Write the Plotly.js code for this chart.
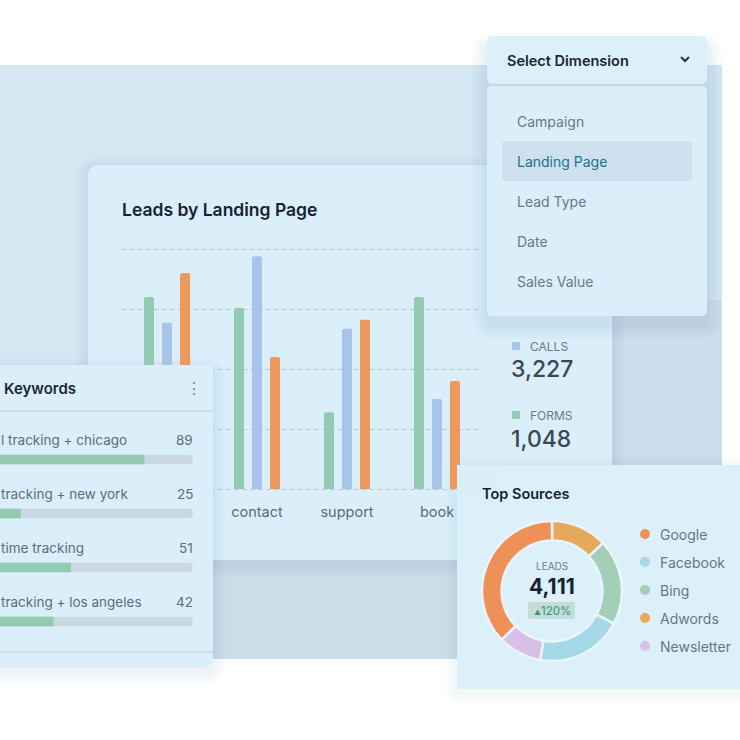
<!DOCTYPE html>
<html><head><meta charset="utf-8">
<script src="https://cdn.plot.ly/plotly-3.0.1.min.js"></script>
<style>html,body{margin:0;padding:0;background:#fff;}#chart{width:740px;height:740px;}</style>
</head><body><div id="chart"></div>
<script>
// ---------------- data ----------------
const pages = ['home', 'contact', 'support', 'book'];
const formsByPage = [320, 302, 128, 320];
const callsByPage = [277, 388, 267, 150];
const chatsByPage = [360, 220, 282, 180];

const summaryLabels = ['CALLS', 'FORMS'];
const summaryValues = [3227, 1048];

// keyword labels as visible in the (left-cropped) panel
const keywords = ['l tracking + chicago', 'tracking + new york', 'time tracking', 'tracking + los angeles'];
const keywordLeads = [89, 25, 51, 42];
const keywordTrack = [114, 114, 114, 114];

const sources = ['Google', 'Facebook', 'Bing', 'Adwords', 'Newsletter'];
const sourceLeads = [1530, 822, 810, 535, 414];
const ringOrder = ['Adwords', 'Bing', 'Facebook', 'Newsletter', 'Google'];
const leadsChange = '120%';

const dimensions = ['Campaign', 'Landing Page', 'Lead Type', 'Date', 'Sales Value'];
const selectedDimension = 'Landing Page';

// ---------------- style ----------------
const W = 740;
const FONT = 'Inter, "Noto Sans", sans-serif';
const PANEL = '#dbeffa';
const GREEN = '#93cbb2', BLUE = '#a8c4eb', ORANGE = '#ec9a5c';
const sourceColors = {Google: '#ee9159', Facebook: '#a6d9e8', Bing: '#a3cfb9', Adwords: '#e6a85a', Newsletter: '#d9c0e9'};
const px = v => v / W;
const py = v => 1 - v / W;

function rr(x0, y0, x1, y1, r) {
  const P = (x, y) => px(x).toFixed(5) + ',' + py(y).toFixed(5);
  return 'M' + P(x0 + r, y0) + ' L' + P(x1 - r, y0) + ' Q' + P(x1, y0) + ' ' + P(x1, y0 + r) +
    ' L' + P(x1, y1 - r) + ' Q' + P(x1, y1) + ' ' + P(x1 - r, y1) +
    ' L' + P(x0 + r, y1) + ' Q' + P(x0, y1) + ' ' + P(x0, y1 - r) +
    ' L' + P(x0, y0 + r) + ' Q' + P(x0, y0) + ' ' + P(x0 + r, y0) + ' Z';
}
function box(x0, y0, x1, y1, r, fill, layer) {
  return {type: 'path', xref: 'paper', yref: 'paper', path: rr(x0, y0, x1, y1, r), fillcolor: fill, line: {width: 0}, layer: layer || 'below'};
}
function shadow(x0, y0, x1, y1, r, dy, n, step, alpha) {
  const out = [];
  for (let i = n; i >= 1; i--) {
    const s = i * step;
    out.push(box(x0 - s, y0 - s + dy, x1 + s, y1 + s + dy, r + s, 'rgba(70,100,130,' + alpha + ')'));
  }
  return out;
}
function hline(x0, x1, y, color, layer) {
  return {type: 'line', xref: 'paper', yref: 'paper', x0: px(x0), x1: px(x1), y0: py(y), y1: py(y), line: {color: color, width: 1}, layer: layer || 'above'};
}
function txt(x, y, text, size, color, o) {
  const a = Object.assign({xref: 'paper', yref: 'paper', x: px(x), y: py(y), text: text, showarrow: false,
    xanchor: 'left', yanchor: 'middle', font: {family: FONT, size: size, color: color}}, o || {});
  if (a.xanchor === 'left') a.x = px(x - 2);
  if (a.xanchor === 'right') a.x = px(x + 2);
  return a;
}
const fmt = n => n.toLocaleString('en-US');

// ---------------- shapes ----------------
let shapes = [];
shapes.push(box(0, 65, 722, 659, 0, '#d5e7f3'));
shapes.push(box(88, 540, 612, 659, 0, '#cbdde9'));
shapes.push(box(612, 300, 722, 470, 0, '#ccdeeb'));
shapes = shapes.concat(shadow(88, 165, 612, 560, 12, 4, 4, 3, 0.018));
shapes.push(box(88, 165, 612, 560, 12, PANEL));
// dropdown
shapes = shapes.concat(shadow(487, 40, 707, 316, 6, 8, 5, 3, 0.018));
shapes.push(box(487, 36, 707, 84, 6, '#dcf0fa'));
shapes.push(box(487, 86, 707, 316, 6, PANEL));
dimensions.forEach((d, i) => {
  if (d === selectedDimension) shapes.push(box(502, 141 + 40 * (i - 1), 692, 181 + 40 * (i - 1), 3, '#cde2ee'));
});
shapes.push({type: 'path', xref: 'paper', yref: 'paper', layer: 'above',
  path: 'M' + px(681) + ',' + py(57) + ' L' + px(685) + ',' + py(61) + ' L' + px(689) + ',' + py(57),
  line: {color: '#24323e', width: 2}});
// summary squares
shapes.push(box(512, 342, 520, 350, 0, BLUE));
shapes.push(box(512, 411, 520, 419, 0, GREEN));
// keywords panel
shapes = shapes.concat(shadow(-20, 365, 213, 668, 10, 5, 4, 3, 0.018));
shapes.push(box(-20, 365, 213, 668, 10, PANEL));
shapes.push(hline(-20, 213, 411, '#b9cdd9'));
shapes.push(hline(-20, 213, 652, '#b9cdd9'));
// top sources panel
shapes = shapes.concat(shadow(457, 465, 760, 689, 5, 3, 4, 3, 0.016));
shapes.push(box(457, 465, 760, 689, 5, '#dcf0fa'));
shapes.push(box(528, 602, 575, 619, 2, '#c6dcd8', 'above'));
sources.forEach((s, i) => {
  shapes.push({type: 'circle', xref: 'paper', yref: 'paper', layer: 'above',
    x0: px(640), x1: px(650), y0: py(529 + 28 * i), y1: py(539 + 28 * i),
    fillcolor: sourceColors[s], line: {width: 0}});
});

// ---------------- annotations ----------------
const ann = [];
ann.push(txt(122, 209, 'Leads by Landing Page', 17.5, '#16222d', {font: {family: FONT, size: 17.5, color: '#16222d', weight: 600}}));
ann.push(txt(507, 60, 'Select Dimension', 14.5, '#1a2733', {font: {family: FONT, size: 14.5, color: '#1a2733', weight: 600}}));
dimensions.forEach((d, i) => {
  ann.push(txt(517, 121 + 40 * i, d, 14, d === selectedDimension ? '#1e7190' : '#6a7986'));
});
summaryLabels.forEach((l, i) => {
  ann.push(txt(530, 346 + 69 * i, l, 12, '#6b7a86'));
  ann.push(txt(511, 369 + 70 * i, fmt(summaryValues[i]), 23, '#3a4855', {font: {family: FONT, size: 23, color: '#3a4855', weight: 500}}));
});
ann.push(txt(4, 388, 'Keywords', 15, '#1a2733', {font: {family: FONT, size: 15, color: '#1a2733', weight: 600}}));
ann.push(txt(194, 388, '⋮', 16, '#7f8d98', {xanchor: 'center'}));
keywords.forEach((k, i) => {
  ann.push({xref: 'paper', yref: 'y2', x: px(-1), y: i - 0.36, text: k, showarrow: false, xanchor: 'left', yanchor: 'middle',
    font: {family: FONT, size: 13.5, color: '#5d6d7a'}});
  ann.push({xref: 'paper', yref: 'y2', x: px(195), y: i - 0.36, text: String(keywordLeads[i]), showarrow: false, xanchor: 'right', yanchor: 'middle',
    font: {family: FONT, size: 13.5, color: '#5d6d7a'}});
});
ann.push(txt(482, 493, 'Top Sources', 14.5, '#16222d', {font: {family: FONT, size: 14.5, color: '#16222d', weight: 600}}));
ann.push(txt(552, 566, 'LEADS', 10, '#6e7c88', {xanchor: 'center'}));
ann.push(txt(552, 586, fmt(sourceLeads.reduce((a, b) => a + b, 0)), 21, '#16222d', {xanchor: 'center', font: {family: FONT, size: 21, color: '#16222d', weight: 700}}));
ann.push(txt(552, 611, '<span style="font-size:7px">▲</span>' + leadsChange, 11.5, '#2c9a78', {xanchor: 'center'}));
sources.forEach((s, i) => {
  ann.push(txt(660, 534 + 28 * i, s, 14, '#687784'));
});

// ---------------- traces ----------------
const BW = 10 / 90;
const series = [
  {name: 'Forms', y: formsByPage, color: GREEN, c: -0.2},
  {name: 'Calls', y: callsByPage, color: BLUE, c: 0},
  {name: 'Chats', y: chatsByPage, color: ORANGE, c: 0.2}
];
const data = series.map(s => ({
  type: 'bar', name: s.name, x: pages, y: s.y, width: BW, offset: s.c - BW / 2,
  marker: {color: s.color, cornerradius: 2, line: {width: 0}}, xaxis: 'x', yaxis: 'y', hoverinfo: 'skip'
}));
const KW = 9.5 / 54;
data.push({type: 'bar', orientation: 'h', x: keywordTrack, y: keywords, width: KW, offset: -KW / 2,
  marker: {color: '#c9d8e1', cornerradius: 5}, xaxis: 'x2', yaxis: 'y2', hoverinfo: 'skip'});
data.push({type: 'bar', orientation: 'h', x: keywordLeads, y: keywords, width: KW, offset: -KW / 2,
  marker: {color: GREEN, cornerradius: 0}, xaxis: 'x2', yaxis: 'y2', hoverinfo: 'skip'});
data.push({type: 'scatter', x: [], y: [], xaxis: 'x3', yaxis: 'y3', hoverinfo: 'skip'});
data.push({type: 'pie', labels: ringOrder, values: ringOrder.map(s => sourceLeads[sources.indexOf(s)]),
  marker: {colors: ringOrder.map(s => sourceColors[s]), line: {color: '#e8f5fc', width: 2.5}},
  hole: 0.72, sort: false, direction: 'clockwise', rotation: 0, textinfo: 'none', hoverinfo: 'skip',
  domain: {x: [px(482), px(622)], y: [py(661), py(521)]}});

const hidden = {showgrid: false, zeroline: false, showticklabels: false, showline: false, ticks: ''};
const layout = {
  width: 740, height: 740, margin: {l: 0, r: 0, t: 0, b: 0},
  paper_bgcolor: '#ffffff', plot_bgcolor: PANEL, showlegend: false,
  font: {family: FONT},
  xaxis: {type: 'category', domain: [px(122), px(482)], range: [-0.5, 3.5], showgrid: false, zeroline: false, showline: false,
    ticks: '', ticklabelstandoff: 11, tickfont: {family: FONT, size: 14.5, color: '#5c6b78'}, anchor: 'y'},
  yaxis: {domain: [py(490.2), py(247.8)], range: [-2, 402], dtick: 100, tick0: 0, showgrid: true, griddash: '5px,3px',
    gridcolor: '#b7cad7', gridwidth: 1, zeroline: false, showticklabels: false, showline: false, anchor: 'x'},
  xaxis2: Object.assign({domain: [0, px(213)], range: [14.3, 124.5], anchor: 'y2'}, hidden),
  yaxis2: Object.assign({type: 'category', domain: [py(660), py(365)], range: [3.713, -1.75], anchor: 'x2'}, hidden),
  xaxis3: Object.assign({domain: [px(457), px(500)], range: [0, 1], anchor: 'y3'}, hidden),
  yaxis3: Object.assign({domain: [py(500), py(465)], range: [0, 1], anchor: 'x3'}, hidden),
  shapes: shapes, annotations: ann
};
Plotly.newPlot('chart', data, layout, {staticPlot: true, displayModeBar: false});
</script></body></html>
